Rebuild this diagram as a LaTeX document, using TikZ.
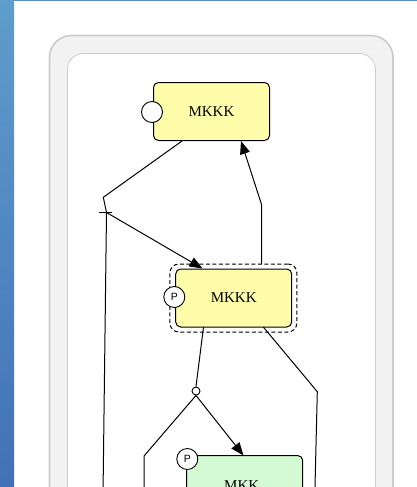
\documentclass[tikz,border=0pt]{standalone}
\usepackage{fontspec}
\setmainfont{Liberation Serif}
\newfontfamily\labelsans{Liberation Sans}
\usetikzlibrary{arrows.meta}
\definecolor{stripTop}{HTML}{5F9DCC}
\definecolor{stripBot}{HTML}{4171B6}
\definecolor{panelEdge}{HTML}{CCCCCC}
\definecolor{panelFill}{HTML}{F2F2F2}
\definecolor{macroYellow}{HTML}{FFFCAA}
\definecolor{macroGreen}{HTML}{D4FAD4}
\tikzset{
  x=1pt, y=-1pt,
  glyph/.style={draw=black, line width=1pt, rounded corners=5pt, minimum width=116pt, minimum height=58pt, inner sep=0pt, font=\fontsize{15}{15}\selectfont},
  yellowglyph/.style={glyph, fill=macroYellow},
  greenglyph/.style={glyph, fill=macroGreen},
  stateglyph/.style={circle, draw=black, fill=white, line width=0.9pt, minimum size=21pt, inner sep=0pt, font=\labelsans\fontsize{10.5}{10.5}\selectfont},
  compbox/.style={draw=black, dashed, dash pattern=on 4pt off 2.5pt, line width=1pt, rounded corners=9pt, minimum width=127pt, minimum height=68pt, inner sep=0pt},
  arc/.style={draw=black, line width=1pt},
  produce/.style={arc, -{Triangle[length=13pt,width=10pt]}},
  tiny/.style={circle, draw=black, fill=white, line width=0.9pt, minimum size=8pt, inner sep=0pt},
}
\begin{document}
\begin{tikzpicture}
\useasboundingbox (0,0) rectangle (417,487);
\begin{scope}
\clip (0,0) rectangle (417,487);
% page background and side strip
\fill[white] (0,0) rectangle (417,487);
\shade[top color=stripTop, bottom color=stripBot] (0,0) rectangle (14,487);
\fill[stripTop!70!stripBot] (14,0) rectangle (417,1.3);
% compartment frame
\draw[panelEdge, line width=1.6pt, fill=panelFill, rounded corners=22pt] (49.5,35.5) -- (393,35.5) -- (393,540) -- (49.5,540) -- cycle;
\draw[panelEdge, line width=0.8pt, fill=white, rounded corners=16pt] (67.5,53.5) -- (375.5,53.5) -- (375.5,540) -- (67.5,540) -- cycle;

% glyphs
\node[yellowglyph] (k1) at (211.5,111.5) {MKKK};
\node[stateglyph] (s1) at (152,112) {};
\node[compbox] (cx) at (233.4,298) {};
\node[yellowglyph] (k2) at (233.7,298) {MKKK};
\node[stateglyph] (s2) at (174.3,297) {P};
\node[greenglyph, anchor=north] (k3) at (244.7,455) {};
\node[font=\fontsize{15}{15}\selectfont] (t3) at (241.7,485.5) {MKK};
\node[stateglyph] (s3) at (187.3,459) {P};

% process points
\coordinate (j1) at (106.5,212.5);
\coordinate (j1a) at (98.5,212.5);
\coordinate (j1b) at (111.5,212.5);
\node[tiny] (p2) at (196,391) {};

% connectors
\draw[arc] (k1.south) ++(-29.5,0) coordinate (k1out) -- (103.3,197.3) -- (j1);
\draw[arc] (j1a) -- (j1b);
\draw[arc] (j1) -- (103,495);
\draw[produce] (j1) -- (202.5,268.5);
\draw[produce] (261.7,264) -- (261.7,205) -- (241,141);
\draw[arc] (203.5,327) -- (p2.north);
\draw[arc] (p2.south) -- (144,456) -- (144,495);
\draw[produce] (p2.south) -- (243.5,455.5);
\draw[arc] (263.3,327) -- (317.3,391.7) -- (314.8,495);
\end{scope}
\end{tikzpicture}
\end{document}
